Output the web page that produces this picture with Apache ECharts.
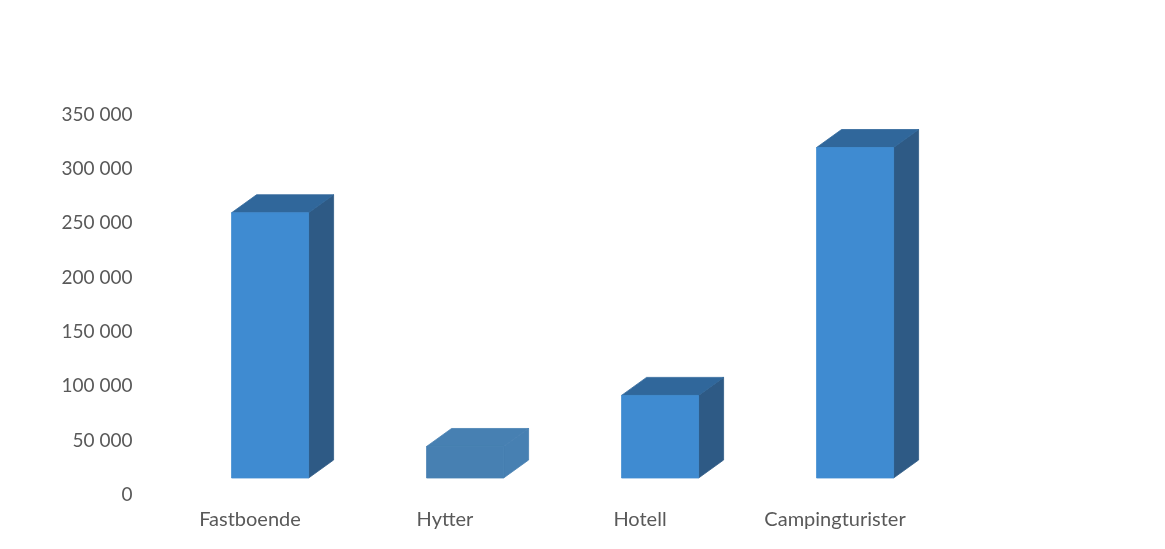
<!DOCTYPE html>
<html>
<head>
<meta charset="utf-8">
<script src="https://cdn.jsdelivr.net/npm/echarts@6/dist/echarts.min.js"></script>
<style>
  html, body { margin: 0; padding: 0; background: #ffffff; }
  #chart { width: 1165px; height: 549px; }
</style>
</head>
<body>
<div id="chart"></div>
<script>
// Categories and values
const categories = ['Fastboende', 'Hytter', 'Hotell', 'Campingturister'];
const values = [244000, 29000, 76000, 304000];
const yTicks = [0, 50000, 100000, 150000, 200000, 250000, 300000, 350000];

// Face colours per column: [front, top, side]
const faceColors = [
  ['#3f8bd1', '#30679b', '#2e5a85'],
  ['#4780b2', '#4780b2', '#4780b2'],
  ['#3f8bd1', '#30679b', '#2e5a85'],
  ['#3f8bd1', '#30679b', '#2e5a85']
];

const fmt = v => String(v).replace(/\B(?=(\d{3})+(?!\d))/g, ' ');

const chart = echarts.init(document.getElementById('chart'), null, { renderer: 'canvas' });

// Pseudo-3D column drawn as front, top and side faces
function renderColumn(params, api) {
  const i = api.value(0);
  const v = api.value(1);
  const top = api.coord([i, v]);
  const base = api.coord([i, 0]);
  const band = api.size([1, 0])[0];
  const w = band * 0.395;
  const shift = band * 0.103;
  const dx = 25, dy = 18, lift = 17;
  const x0 = top[0] + shift - w / 2;
  const x1 = x0 + w;
  const yb = base[1] - lift;
  const yt = top[1] - lift;
  const c = faceColors[i];
  const face = col => ({ fill: col, stroke: col, lineWidth: 0.8 });
  return {
    type: 'group',
    children: [
      {
        type: 'polygon',
        shape: { points: [[x1, yt], [x1 + dx, yt - dy], [x1 + dx, yb - dy], [x1, yb]] },
        style: face(c[2])
      },
      {
        type: 'polygon',
        shape: { points: [[x0, yt], [x0 + dx, yt - dy], [x1 + dx, yt - dy], [x1, yt]] },
        style: face(c[1])
      },
      {
        type: 'rect',
        shape: { x: x0, y: yt, width: w, height: yb - yt },
        style: face(c[0])
      }
    ]
  };
}

chart.setOption({
  animation: false,
  backgroundColor: '#ffffff',
  grid: { left: 152.5, right: 232.5, top: 114.5, bottom: 54 },
  xAxis: {
    type: 'category',
    data: categories,
    axisLine: { show: false },
    axisTick: { show: false },
    axisLabel: {
      color: '#595959',
      fontFamily: 'Lato',
      fontSize: 20,
      margin: 15
    }
  },
  yAxis: {
    type: 'value',
    min: yTicks[0],
    max: yTicks[yTicks.length - 1],
    interval: yTicks[1] - yTicks[0],
    axisLine: { show: false },
    axisTick: { show: false },
    splitLine: { show: false },
    axisLabel: {
      color: '#595959',
      fontFamily: 'Lato',
      fontSize: 19,
      margin: 20,
      formatter: fmt
    }
  },
  series: [{
    type: 'custom',
    renderItem: renderColumn,
    data: values.map((v, i) => [i, v]),
    encode: { x: 0, y: 1 }
  }]
});
</script>
</body>
</html>
